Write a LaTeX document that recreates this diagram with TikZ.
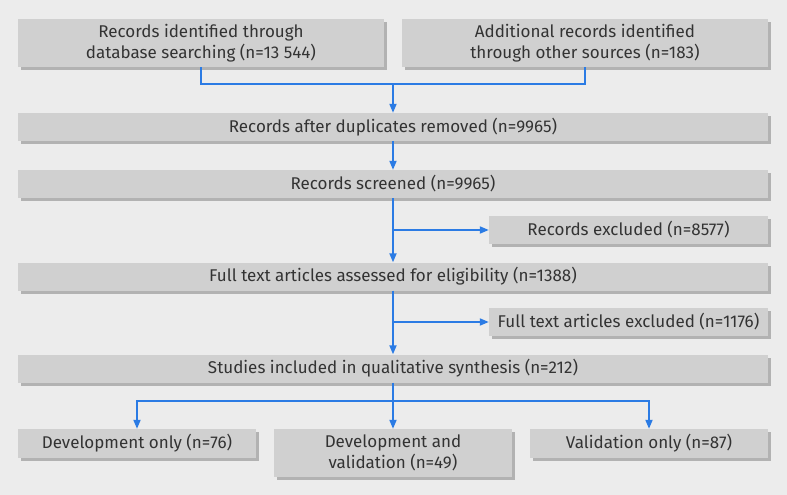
\documentclass[tikz,border=0pt]{standalone}
\usepackage{fontspec}
\setmainfont{Fira Sans}
\usetikzlibrary{arrows.meta,shadows}
\definecolor{bgc}{HTML}{ECECEC}
\definecolor{boxc}{HTML}{D0D0D0}
\definecolor{shc}{HTML}{B2B2B2}
\definecolor{bluec}{HTML}{2B7BE4}
\definecolor{txtc}{HTML}{333333}
\tikzset{
  box/.style={rectangle, fill=boxc, text=txtc, inner sep=0pt, align=center,
    font=\fontsize{17}{20.5}\selectfont,
    drop shadow={shadow xshift=3pt, shadow yshift=-3pt, fill=shc, opacity=1}},
  conn/.style={draw=bluec, line width=1.8pt},
  arr/.style={conn, -{Triangle[length=9pt,width=7pt]}}
}
\begin{document}
\begin{tikzpicture}[x=1pt,y=-1pt]
\fill[bgc] (0,0) rectangle (787,495);
\useasboundingbox (0,0) rectangle (787,495);
\node[box, minimum width=366pt, minimum height=48pt] (b1) at (201,43) {Records identified through\\database searching (n=13~544)};
\node[box, minimum width=366pt, minimum height=48pt] (b2) at (585,43) {Additional records identified\\through other sources (n=183)};
\node[box, minimum width=750pt, minimum height=28pt] (b3) at (393,127) {Records after duplicates removed (n=9965)};
\node[box, minimum width=750pt, minimum height=28pt] (b4) at (393,184) {Records screened (n=9965)};
\node[box, minimum width=279pt, minimum height=28pt] (e1) at (628.5,230) {Records excluded (n=8577)};
\node[box, minimum width=750pt, minimum height=28pt] (b5) at (393,276.5) {Full text articles assessed for eligibility (n=1388)};
\node[box, minimum width=279pt, minimum height=28pt] (e2) at (628.5,322) {Full text articles excluded (n=1176)};
\node[box, minimum width=750pt, minimum height=28pt] (b6) at (393,368.5) {Studies included in qualitative synthesis (n=212)};
\node[box, minimum width=238pt, minimum height=29pt] (d1) at (137,443.5) {Development only (n=76)};
\node[box, minimum width=238pt, minimum height=48pt] (dv) at (393,453) {Development and\\validation (n=49)};
\node[box, minimum width=238pt, minimum height=29pt] (v1) at (649,443.5) {Validation only (n=87)};
\coordinate (j1) at (393,84);
\coordinate (j2) at (393,401);
\draw[conn] (b1.south) |- (j1);
\draw[conn] (b2.south) |- (j1);
\draw[arr] (j1) -- (b3.north);
\draw[arr] (b3.south) -- (b4.north);
\draw[arr] (b4.south) -- (b5.north);
\draw[arr] (b4.south |- e1.west) -- (e1.west);
\draw[arr] (b5.south) -- (b6.north);
\draw[arr] (b5.south |- e2.west) -- (e2.west);
\draw[arr] (b6.south) -- (dv.north);
\draw[arr] (j2) -| (d1.north);
\draw[arr] (j2) -| (v1.north);
\end{tikzpicture}
\end{document}
